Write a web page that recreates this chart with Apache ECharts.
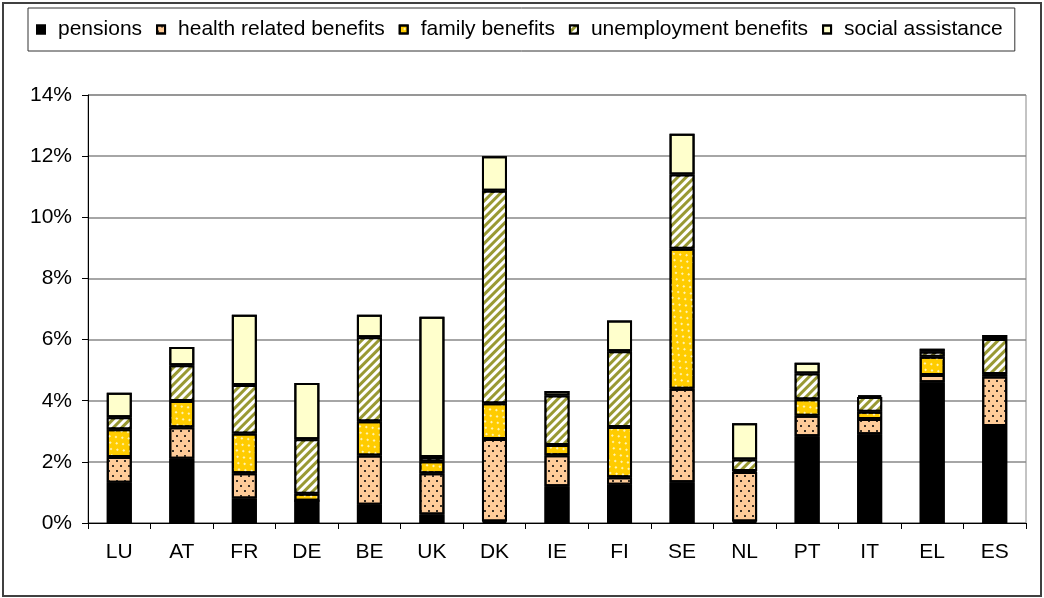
<!DOCTYPE html>
<html>
<head>
<meta charset="utf-8">
<script src="https://cdn.jsdelivr.net/npm/echarts@6/dist/echarts.min.js"></script>
<style>
  html, body { margin: 0; padding: 0; background: #fff; }
  #chart { width: 1044px; height: 598px; }
</style>
</head>
<body>
<div id="chart"></div>
<script>
  // values are % of GDP
  var categories = ['LU', 'AT', 'FR', 'DE', 'BE', 'UK', 'DK', 'IE', 'FI', 'SE', 'NL', 'PT', 'IT', 'EL', 'ES'];
  var pensions     = [1.32, 2.10, 0.80, 0.73, 0.60, 0.28, 0.05, 1.20, 1.25, 1.33, 0.05, 2.84, 2.90, 4.60, 3.17];
  var health       = [0.84, 1.03, 0.83, 0.00, 1.61, 1.35, 2.70, 1.02, 0.25, 3.06, 1.62, 0.67, 0.50, 0.24, 1.62];
  var family       = [0.91, 0.86, 1.30, 0.23, 1.12, 0.39, 1.17, 0.33, 1.64, 4.58, 0.03, 0.54, 0.24, 0.60, 0.08];
  var unemployment = [0.39, 1.17, 1.58, 1.78, 2.75, 0.14, 6.95, 1.62, 2.48, 2.43, 0.38, 0.84, 0.48, 0.16, 1.15];
  var social       = [0.80, 0.60, 2.30, 1.84, 0.73, 4.59, 1.13, 0.15, 1.00, 1.33, 1.18, 0.35, 0.06, 0.10, 0.13];
  var yTicks = [0, 2, 4, 6, 8, 10, 12, 14];

  var font = 'Liberation Sans, Arial, sans-serif';
  var noDecal = { symbol: 'rect', color: 'rgba(0,0,0,0)' };

  function bar(name, data, color, decal) {
    return {
      name: name,
      type: 'bar',
      stack: 'total',
      barWidth: 25,
      data: data,
      itemStyle: {
        color: color,
        borderColor: '#000',
        borderWidth: 2,
        decal: decal
      }
    };
  }

  var myChart = echarts.init(document.getElementById('chart'));
  myChart.setOption({
    animation: false,
    aria: { enabled: true, decal: { show: true } },
    textStyle: { fontFamily: font },
    graphic: [{
      type: 'rect',
      shape: { x: 3, y: 3, width: 1038, height: 593 },
      style: { fill: 'none', stroke: '#404040', lineWidth: 2 },
      silent: true
    }],
    legend: {
      left: 28,
      top: 8,
      padding: [11, 12, 11, 8],
      itemGap: 14,
      itemWidth: 8,
      itemHeight: 8,
      icon: 'rect',
      borderColor: '#333',
      borderWidth: 1,
      textStyle: { fontSize: 21, color: '#000', fontFamily: font, padding: [0, 0, 0, 8] },
      data: ['pensions', 'health related benefits', 'family benefits', 'unemployment benefits', 'social assistance']
    },
    grid: {
      left: 88,
      right: 18,
      top: 95,
      bottom: 75,
      show: true,
      borderColor: '#888',
      borderWidth: 1
    },
    xAxis: {
      type: 'category',
      data: categories,
      axisLine: { lineStyle: { color: '#000', width: 1 } },
      axisTick: { show: true, length: 6, lineStyle: { color: '#000' } },
      axisLabel: { color: '#000', fontSize: 21, margin: 19, fontFamily: font }
    },
    yAxis: {
      type: 'value',
      min: yTicks[0],
      max: yTicks[yTicks.length - 1],
      interval: 2,
      axisLine: { show: true, lineStyle: { color: '#000', width: 1 } },
      axisTick: { show: true, length: 6, lineStyle: { color: '#000' } },
      axisLabel: { color: '#000', fontSize: 21, margin: 16, fontFamily: font, formatter: '{value}%' },
      splitLine: { lineStyle: { color: '#888', width: 1.5 } }
    },
    series: [
      bar('pensions', pensions, '#000', noDecal),
      bar('health related benefits', health, '#FFCC99', {
        symbol: 'rect', symbolSize: 1, color: '#3a3025',
        dashArrayX: [[2, 6], [0, 4, 2, 2]], dashArrayY: [2, 2.5]
      }),
      bar('family benefits', family, '#FFCC00', {
        symbol: 'rect', symbolSize: 1, color: '#FFF2B0',
        dashArrayX: [[2, 6], [0, 4, 2, 2]], dashArrayY: [2, 2.5]
      }),
      bar('unemployment benefits', unemployment, '#999933', {
        symbol: 'rect', symbolSize: 1, color: '#fff',
        dashArrayX: [1, 0], dashArrayY: [2.5, 3], rotation: -Math.PI / 4
      }),
      bar('social assistance', social, '#FFFFCC', noDecal)
    ]
  });
</script>
</body>
</html>
